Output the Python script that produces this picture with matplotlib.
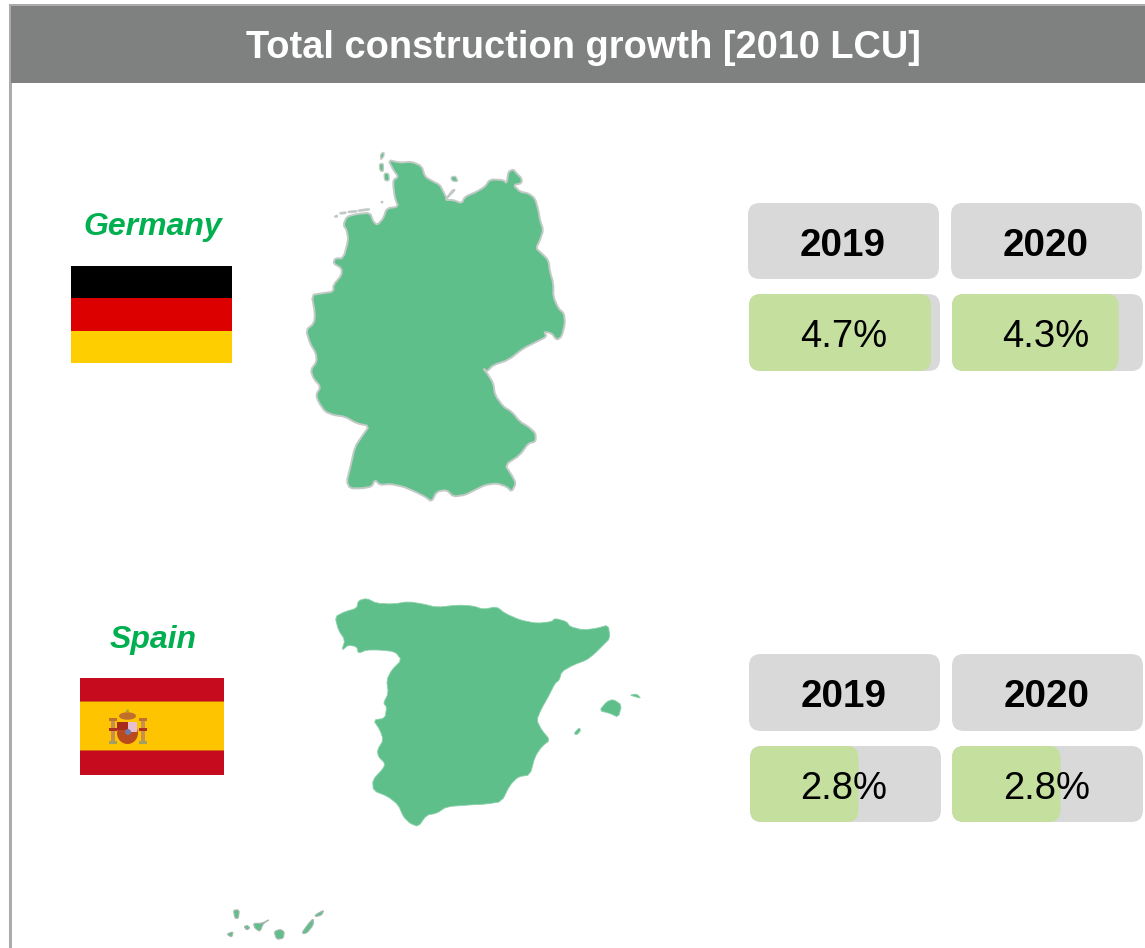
import matplotlib
matplotlib.use("Agg")
import matplotlib.pyplot as plt
from matplotlib.patches import FancyBboxPatch, Polygon, Rectangle, Ellipse

W, H = 1145, 948
plt.rcParams['font.family'] = ['Liberation Sans', 'DejaVu Sans']

# ---- data ----
TITLE = "Total construction growth [2010 LCU]"
countries = ["Germany", "Spain"]
years = ["2019", "2020"]
germany_values = [4.7, 4.3]
spain_values = [2.8, 2.8]
track_max = 4.93   # value that fills the grey track

# ---- outlines, traced in 3x zoom coordinates ----
germany_outline = [(295,60),(330,68),(365,65),(395,78),(405,110),(425,122),(450,135),(460,155),(470,175),(488,150),(495,150),(480,165),(465,180),(490,180),(515,190),(525,170),(560,155),(585,140),(600,118),(640,120),(650,130),(655,95),(670,88),(680,100),(695,115),(695,130),(670,135),(690,155),(715,160),(735,175),(745,210),(750,240),(760,270),(750,300),(738,325),(755,340),(775,360),(780,395),(790,430),(790,470),(805,505),(822,520),(825,550),(815,590),(800,600),(785,580),(762,575),(770,590),(740,605),(700,625),(655,660),(610,675),(590,695),(580,685),(595,705),(610,730),(615,765),(640,800),(665,815),(690,845),(715,860),(737,880),(737,905),(715,910),(690,945),(645,975),(665,1005),(678,1030),(665,1055),(650,1040),(620,1030),(585,1035),(555,1050),(525,1065),(490,1070),(470,1050),(440,1055),(425,1085),(405,1070),(375,1055),(340,1040),(300,1032),(270,1035),(255,1020),(245,1040),(215,1045),(180,1045),(170,1025),(180,985),(195,920),(215,890),(238,858),(200,850),(165,830),(130,825),(105,815),(85,785),(78,765),(92,740),(70,715),(62,690),(80,665),(78,640),(60,610),(48,570),(72,550),(75,520),(65,465),(95,460),(130,455),(130,435),(155,405),(155,385),(130,370),(135,355),(160,355),(175,300),(170,270),(160,255),(170,230),(200,222),(240,218),(250,245),(262,255),(280,235),(290,205),(325,200),(315,175),(310,140),(310,120),(325,110),(310,90)]
germany_islands = [
    [(132,230),(142,225),(142,232)], [(150,218),(168,216),(168,220),(150,222)], [(175,214),(200,212),(200,216),(175,218)],
    [(205,210),(238,206),(238,210),(205,214)], [(272,187),(278,183),(278,189)], [(272,42),(282,36),(282,48),(272,60)],
    [(268,72),(280,70),(280,95),(270,92)], [(282,100),(296,100),(298,122),(284,122)], [(482,112),(496,108),(504,124),(488,124)]]

spain_outline = [(345,110),(375,95),(410,85),(415,62),(440,55),(470,70),(520,72),(565,65),(610,72),(650,82),(715,75),(760,78),(790,88),(830,80),(855,100),(900,120),(950,130),(995,125),(1005,115),(1040,125),(1050,140),(1090,150),(1130,145),(1165,135),(1170,175),(1150,195),(1125,220),(1100,240),(1060,255),(1025,275),(1018,300),(1005,310),(985,350),(965,385),(950,420),(965,450),(990,480),(965,500),(945,530),(930,585),(895,590),(870,615),(845,665),(800,672),(745,675),(680,680),(650,700),(620,705),(595,740),(570,730),(550,710),(535,675),(505,650),(460,632),(458,600),(490,565),(495,550),(475,530),(472,510),(490,480),(480,450),(460,420),(495,415),(500,380),(490,370),(505,340),(500,300),(515,270),(545,240),(525,215),(480,210),(440,210),(415,220),(410,200),(385,195),(365,212),(375,180),(355,150)]
spain_islands = [
    [(1138,392),(1160,365),(1180,358),(1205,375),(1195,412),(1170,400)],
    [(1230,345),(1250,342),(1263,355),(1245,350)], [(1062,460),(1078,443),(1082,452),(1070,465)]]
canary_islands = [
    [(40,990),(58,990),(55,1015),(45,1015)], [(20,1062),(40,1055),(35,1072)], [(72,1040),(82,1036),(90,1044),(80,1050)],
    [(100,1030),(125,1030),(150,1018),(130,1030),(120,1055),(105,1045)], [(162,1055),(180,1048),(193,1055),(190,1075),(170,1078)],
    [(245,1060),(262,1035),(280,1015),(280,1035),(260,1060)], [(285,1005),(312,990),(305,1005),(288,1010)]]

# ---- styles ----
HEADER = '#7F8180'
BORDER = '#ABABAB'
GREY = '#D9D9D9'
LIGHT_GREEN = '#C5DF9E'
MAP_GREEN = '#5EBF8A'
MAP_EDGE = '#C2CAC6'
LABEL_GREEN = '#00B050'

fig = plt.figure(figsize=(W / 100, H / 100), dpi=100, facecolor='white')
ax = fig.add_axes([0, 0, 1, 1])
ax.set_xlim(0, W)
ax.set_ylim(H, 0)
ax.axis('off')

# header and frame
ax.add_patch(Rectangle((9, 4), W - 9, 2.5, fc=BORDER, ec='none'))
ax.add_patch(Rectangle((9, 4), 2.5, H - 4, fc=BORDER, ec='none'))
ax.add_patch(Rectangle((11, 6), W - 11, 77, fc=HEADER, ec='none', zorder=2))
ax.text(583.5, 58, TITLE, color='white', fontweight='bold', fontsize=27.4, ha='center', va='baseline', zorder=3)


def smooth(points):
    """One corner-cutting pass, so the traced outline loses its hard corners."""
    out = []
    n = len(points)
    for i in range(n):
        (x0, y0), (x1, y1) = points[i], points[(i + 1) % n]
        out.append((0.8 * x0 + 0.2 * x1, 0.8 * y0 + 0.2 * y1))
        out.append((0.2 * x0 + 0.8 * x1, 0.2 * y0 + 0.8 * y1))
    return out


def draw_map(points, ox, oy, edge=MAP_EDGE, lw=1.4):
    xy = [(ox + x / 3, oy + y / 3) for x, y in smooth(points)]
    ax.add_patch(Polygon(xy, closed=True, fc=MAP_GREEN, ec=edge, lw=lw, joinstyle='round'))


draw_map(germany_outline, 290, 140)
for isl in germany_islands:
    draw_map(isl, 290, 140, lw=1.0)
draw_map(spain_outline, 220, 580, edge='#8CD0AA', lw=0.6)
for isl in spain_islands:
    draw_map(isl, 220, 580, edge='#8CD0AA', lw=0.6)
for isl in canary_islands:
    draw_map(isl, 220, 580, edge='#A8B8B0', lw=0.8)


def label(name, y):
    ax.text(153, y, name, color=LABEL_GREEN, fontweight='bold', fontstyle='italic',
            fontsize=23, ha='center', va='baseline')


label(countries[0], 235)
label(countries[1], 648)

# German flag
for y0, y1, c in [(266, 298, '#000000'), (298, 331, '#DD0000'), (331, 363, '#FFCE00')]:
    ax.add_patch(Rectangle((71, y0), 161, y1 - y0, fc=c, ec='none'))
# Spanish flag
for y0, y1, c in [(678, 702, '#C60B1E'), (702, 751, '#FFC400'), (751, 775, '#C60B1E')]:
    ax.add_patch(Rectangle((80, y0), 144, y1 - y0, fc=c, ec='none'))
ax.add_patch(Rectangle((80, 701), 144, 1.2, fc='#D8600F', ec='none'))
ax.add_patch(Rectangle((80, 750), 144, 1.2, fc='#D8600F', ec='none'))
# coat of arms
ax.add_patch(Ellipse((127.5, 716), 17, 7.5, fc='#C0702A', ec='none'))
ax.add_patch(Ellipse((127.5, 711), 3, 3, fc='#A8A040', ec='none'))
ax.add_patch(Ellipse((127.5, 733), 21, 22, fc='#B84A1E', ec='none'))
ax.add_patch(Rectangle((128, 722), 9, 10, fc='#E6BFD0', ec='none'))
ax.add_patch(Rectangle((117, 722), 11, 8, fc='#A82A1C', ec='none'))
ax.add_patch(Ellipse((128, 732), 6, 6, fc='#7078B0', ec='none'))
for px_x in (112.5, 143):
    ax.add_patch(Rectangle((px_x - 2, 721), 4, 20, fc='#C89050', ec='none'))
    ax.add_patch(Rectangle((px_x - 4, 741), 8, 3, fc='#A0A060', ec='none'))
    ax.add_patch(Rectangle((px_x - 4, 718), 8, 3, fc='#C07030', ec='none'))
    ax.add_patch(Rectangle((px_x - 4, 728), 8, 2.5, fc='#B03020', ec='none'))


def rounded(a, x, y, w, h, color, r=12, aspect=1.0, z=2):
    a.add_patch(FancyBboxPatch((x, y), w, h, boxstyle=f"round,pad=0,rounding_size={r}",
                               fc=color, ec='none', mutation_aspect=aspect, zorder=z, clip_on=False))


def cell(x, y, value, year, head_x, head_y, head_h=76, val_h=77, dx=-1.2, head_dx=0):
    # header tile
    rounded(ax, head_x, head_y, 191, head_h, GREY)
    ax.text(head_x + 95.5 + head_dx, head_y + 53, year, color='black', fontweight='bold', fontsize=27.8,
            ha='center', va='baseline', zorder=4)
    # progress tile in its own value axes
    w, h = 191, val_h
    bax = fig.add_axes([x / W, 1 - (y + h) / H, w / W, h / H])
    bax.set_xlim(0, track_max)
    bax.set_ylim(0, 1)
    bax.axis('off')
    px = w / track_max
    rr = 12 / px
    rounded(bax, 0, 0, track_max, 1, GREY, r=rr, aspect=px / h)
    rounded(bax, 0, 0, value, 1, LIGHT_GREEN, r=rr, aspect=px / h, z=3)
    bax.text(0.5 + dx / w, (h - 53) / h, f"{value}%", transform=bax.transAxes, color='black', fontsize=27.5,
             ha='center', va='baseline', zorder=5)


cell(749, 294, germany_values[0], years[0], 748, 203, dx=-0.5, head_dx=-0.5)
cell(952, 294, germany_values[1], years[1], 951, 203, dx=-1.5, head_dx=-0.5)
cell(750, 746, spain_values[0], years[0], 749, 654, head_h=77, val_h=76, dx=-1.5, head_dx=-1)
cell(952, 746, spain_values[1], years[1], 952, 654, head_h=77, val_h=76, dx=-1, head_dx=-1)

fig.savefig('out.png', dpi=100)
